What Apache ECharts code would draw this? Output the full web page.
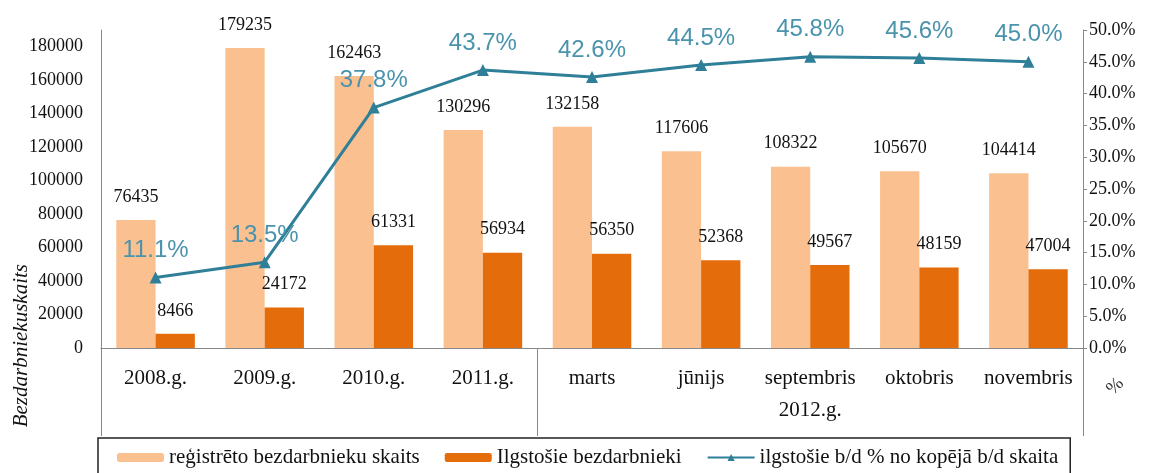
<!DOCTYPE html>
<html>
<head>
<meta charset="utf-8">
<script src="https://cdn.jsdelivr.net/npm/echarts@6/dist/echarts.min.js"></script>
<style>
  html, body { margin: 0; padding: 0; background: #fff; }
  #chart { width: 1149px; height: 473px; }
</style>
</head>
<body>
<div id="chart"></div>
<script>
// kategorijas (2012.g. mēneši grupēti zem otrās ass)
const categories = ['2008.g.', '2009.g.', '2010.g.', '2011.g.', 'marts', 'jūnijs', 'septembris', 'oktobris', 'novembris']
const groupLabels = ['', '', '', '', '', '', '2012.g.', '', '']
const registered = [76435, 179235, 162463, 130296, 132158, 117606, 108322, 105670, 104414]
const longTerm = [8466, 24172, 61331, 56934, 56350, 52368, 49567, 48159, 47004]
const longTermShare = [11.1, 13.5, 37.8, 43.7, 42.6, 44.5, 45.8, 45.6, 45.0]

const serif = 'Liberation Serif'
const chart = echarts.init(document.getElementById('chart'))

chart.setOption({
  animation: false,
  textStyle: { fontFamily: serif },
  grid: { left: 101, right: 66, top: 30, bottom: 125 },
  legend: {
    left: 98,
    top: 438,
    padding: [9, 12, 12, 19],
    itemGap: 25,
    itemWidth: 47,
    itemHeight: 9,
    borderColor: '#222',
    borderWidth: 1.5,
    borderRadius: 0,
    textStyle: { fontFamily: serif, fontSize: 21, color: '#111' },
    data: ['reģistrēto bezdarbnieku skaits', 'Ilgstošie bezdarbnieki', 'ilgstošie b/d % no kopējā b/d skaita']
  },
  xAxis: [
    {
      type: 'category',
      data: categories,
      axisLine: { lineStyle: { color: '#888', width: 1 } },
      axisTick: {
        show: true,
        length: 88,
        interval: (i) => i === 0 || i === 4,
        lineStyle: { color: '#888' }
      },
      axisLabel: { interval: 0, margin: 20, fontSize: 21, color: '#111', fontFamily: serif }
    },
    {
      type: 'category',
      data: groupLabels,
      position: 'bottom',
      offset: 32,
      axisLine: { show: false },
      axisTick: { show: false },
      axisLabel: { interval: 0, margin: 20, fontSize: 21, color: '#111', fontFamily: serif }
    }
  ],
  yAxis: [
    {
      type: 'value',
      min: 0,
      max: 190000,
      interval: 20000,
      splitLine: { show: false },
      axisLine: { show: true, lineStyle: { color: '#888' } },
      axisTick: { show: false },
      axisLabel: {
        showMaxLabel: false,
        margin: 18,
        fontSize: 18,
        color: '#111',
        fontFamily: serif,
        formatter: (v) => String(v)
      }
    },
    {
      type: 'value',
      min: 0,
      max: 50,
      interval: 5,
      splitLine: { show: false },
      axisLine: { show: true, lineStyle: { color: '#888' } },
      axisTick: { show: true, length: 4, lineStyle: { color: '#888' } },
      axisLabel: {
        margin: 6,
        fontSize: 18,
        color: '#111',
        fontFamily: serif,
        formatter: (v) => v.toFixed(1) + '%'
      }
    }
  ],
  graphic: [
    {
      type: 'text',
      left: 11,
      top: 264,
      rotation: Math.PI / 2,
      style: {
        text: 'Bezdarbniekuskaits',
        font: 'italic 21px "Liberation Serif"',
        fill: '#111'
      }
    },
    {
      type: 'text',
      left: 1103,
      top: 374,
      rotation: Math.PI / 4,
      style: {
        text: '%',
        font: '19px "Liberation Serif"',
        fill: '#333'
      }
    }
  ],
  series: [
    {
      name: 'reģistrēto bezdarbnieku skaits',
      type: 'bar',
      data: registered,
      barGap: '0%',
      barCategoryGap: '28%',
      itemStyle: { color: '#fac090' },
      label: { show: true, position: 'top', distance: 14, fontSize: 18, color: '#111', fontFamily: serif }
    },
    {
      name: 'Ilgstošie bezdarbnieki',
      type: 'bar',
      data: longTerm,
      itemStyle: { color: '#e46c0a' },
      label: { show: true, position: 'top', distance: 14, fontSize: 18, color: '#111', fontFamily: serif }
    },
    {
      name: 'ilgstošie b/d % no kopējā b/d skaita',
      type: 'line',
      yAxisIndex: 1,
      data: longTermShare,
      symbol: 'triangle',
      symbolSize: 12,
      lineStyle: { color: '#2e7f97', width: 3 },
      itemStyle: { color: '#2e7f97' },
      label: {
        show: true,
        position: 'top',
        distance: 9,
        fontSize: 24,
        fontFamily: 'Liberation Sans',
        color: '#4a93ad',
        formatter: (p) => p.value.toFixed(1) + '%'
      }
    }
  ]
})
</script>
</body>
</html>
